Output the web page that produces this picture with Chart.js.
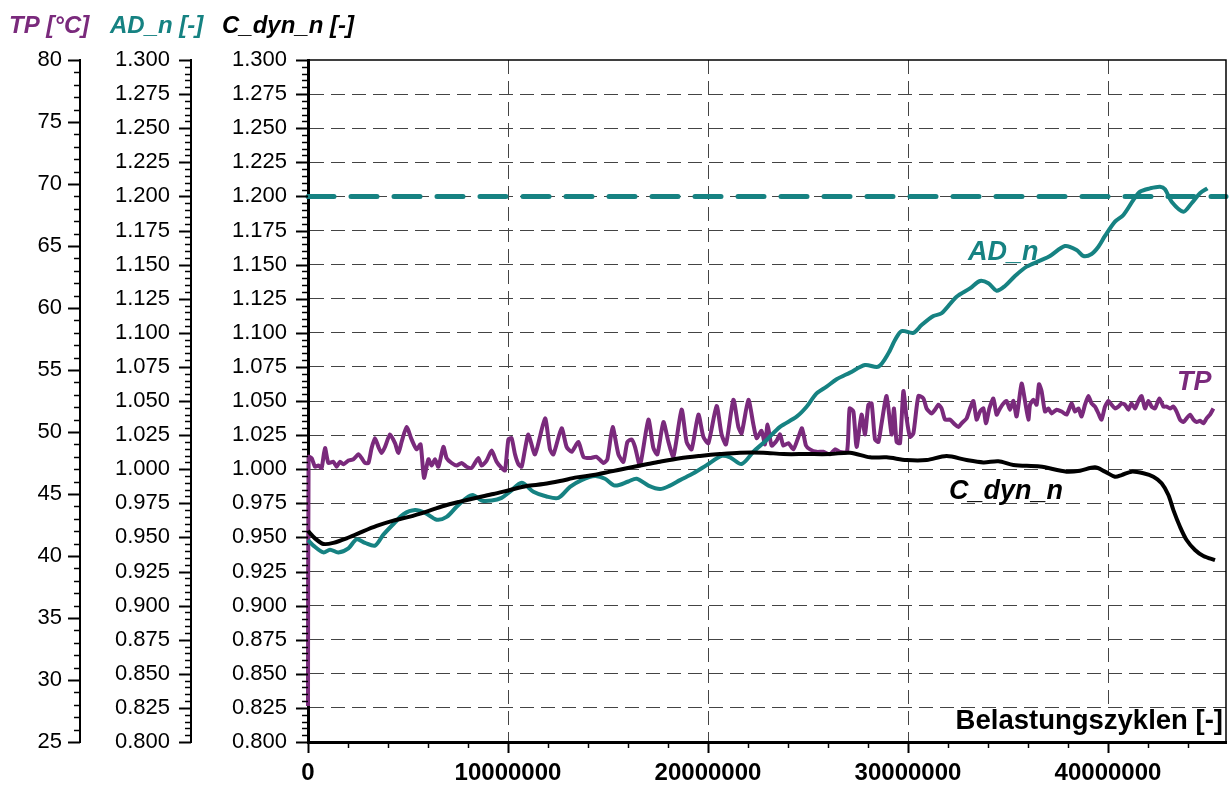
<!DOCTYPE html>
<html>
<head>
<meta charset="utf-8">
<script src="https://cdn.jsdelivr.net/npm/chart.js@4.4.1/dist/chart.umd.min.js"></script>
<style>
    html, body { margin: 0; padding: 0; background: #fff; overflow: hidden; }
    canvas { display: block; }
</style>
</head>
<body>
<canvas id="chart" width="1230" height="785"></canvas>
<script>
// --- Daten (Zyklen in Mio.) ---
const tpZyklen = [0, 0.03, 0.18, 0.35, 0.52, 0.68, 0.85, 1.02, 1.27, 1.43, 1.6, 1.77, 2.02, 2.27, 2.52, 2.68, 2.85, 3.02, 3.18, 3.35,
    3.52, 3.68, 3.85, 4.1, 4.35, 4.52, 4.68, 4.93, 5.18, 5.43, 5.63, 5.8, 6.02, 6.18, 6.35, 6.52, 6.77, 6.93, 7.18, 7.43,
    7.68, 7.93, 8.18, 8.35, 8.52, 8.68, 8.93, 9.18, 9.43, 9.68, 9.85, 10.02, 10.18, 10.35, 10.52, 10.68, 10.85, 11.02, 11.35, 11.85,
    12.1, 12.27, 12.68, 12.93, 13.18, 13.52, 13.77, 14.1, 14.43, 14.77, 14.97, 15.23, 15.52, 15.77, 15.97, 16.18, 16.35, 16.6, 17.02, 17.27,
    17.47, 17.77, 18.02, 18.27, 18.68, 18.93, 19.18, 19.52, 19.77, 20.02, 20.43, 20.68, 20.9, 21.27, 21.52, 21.68, 22.02, 22.27, 22.43, 22.68,
    22.85, 22.98, 23.18, 23.43, 23.6, 23.77, 24.02, 24.27, 24.52, 24.7, 24.9, 25.1, 25.43, 25.77, 26.1, 26.35, 26.6, 26.95, 27.08, 27.27,
    27.43, 27.68, 27.85, 28.02, 28.18, 28.35, 28.52, 28.68, 28.93, 29.18, 29.3, 29.43, 29.6, 29.77, 29.93, 30.1, 30.27, 30.52, 30.77, 30.93,
    31.18, 31.35, 31.52, 31.68, 31.85, 32.1, 32.35, 32.52, 32.68, 32.93, 33.1, 33.27, 33.43, 33.6, 33.77, 33.9, 34.07, 34.27, 34.43, 34.6,
    34.77, 34.93, 35.1, 35.27, 35.43, 35.68, 35.85, 36.02, 36.1, 36.27, 36.43, 36.55, 36.68, 36.85, 37.02, 37.18, 37.43, 37.68, 37.93, 38.18,
    38.35, 38.52, 38.68, 38.85, 39.02, 39.18, 39.35, 39.52, 39.68, 39.85, 40.02, 40.18, 40.35, 40.52, 40.68, 40.85, 41.02, 41.18, 41.35, 41.52,
    41.68, 41.85, 42.02, 42.18, 42.35, 42.57, 42.77, 42.93, 43.1, 43.27, 43.43, 43.6, 43.77, 43.93, 44.1, 44.27, 44.43, 44.6, 44.77, 44.93,
    45.1, 45.27];
const tpWerte = [27.9, 48.0, 47.9, 47.2, 47.3, 47.1, 48.7, 47.5, 47.6, 47.2, 47.6, 47.4, 47.7, 47.8, 48.2, 47.9, 47.5, 47.5, 48.7, 49.5,
    48.8, 48.3, 48.8, 49.8, 49.1, 48.3, 49.2, 50.4, 49.4, 48.6, 49.0, 46.3, 47.8, 47.3, 47.8, 47.2, 48.8, 47.9, 47.5, 47.3,
    47.5, 47.2, 47.1, 47.5, 47.9, 47.3, 47.7, 48.5, 47.6, 47.1, 46.9, 49.4, 49.5, 48.2, 47.4, 47.2, 48.6, 49.8, 48.2, 51.1,
    48.6, 48.2, 50.3, 48.8, 48.4, 49.2, 48.0, 47.9, 48.0, 47.5, 47.8, 50.4, 48.2, 47.6, 49.2, 49.4, 48.8, 47.3, 51.0, 48.7,
    48.2, 50.8, 49.2, 48.0, 51.8, 49.2, 48.6, 51.4, 49.6, 49.1, 52.1, 49.8, 49.0, 52.6, 50.4, 49.9, 52.6, 50.6, 49.5, 50.1,
    49.0, 50.6, 48.9, 49.3, 49.8, 48.9, 49.1, 48.6, 49.6, 50.3, 48.9, 48.6, 48.4, 48.4, 48.2, 48.6, 48.4, 48.4, 51.9, 51.65,
    48.8, 51.4, 49.8, 52.2, 52.3, 49.4, 49.2, 50.7, 52.9, 49.8, 51.9, 49.2, 49.1, 53.3, 51.1, 49.6, 49.9, 52.9, 52.7, 51.9,
    51.5, 51.8, 52.2, 51.9, 51.0, 51.0, 50.6, 50.4, 50.7, 51.1, 51.9, 52.5, 51.0, 51.65, 51.9, 50.7, 51.9, 52.7, 51.4, 51.9,
    52.3, 52.5, 51.8, 52.5, 51.25, 53.9, 52.5, 51.0, 52.2, 52.6, 52.2, 53.85, 53.3, 51.65, 51.9, 51.5, 51.8, 51.65, 51.4, 52.3,
    51.65, 51.9, 51.25, 52.2, 52.9, 52.3, 52.05, 51.5, 51.0, 52.05, 52.5, 52.2, 51.9, 52.05, 52.3, 52.2, 51.8, 52.3, 51.9, 52.5,
    52.9, 51.9, 52.5, 52.05, 51.9, 52.7, 52.05, 52.05, 51.9, 52.05, 51.65, 51.0, 50.8, 51.1, 51.4, 51.0, 50.8, 50.9, 50.7, 51.1,
    51.4, 51.9];

const adZyklen = [0, 0.27, 0.77, 1.1, 1.52, 2.02, 2.43, 2.85, 3.35, 3.77, 4.35, 4.77, 5.35, 5.85, 6.43, 6.93, 7.43, 7.93, 8.27, 8.68,
    9.18, 9.68, 10.1, 10.68, 11.27, 11.93, 12.52, 13.1, 13.68, 14.35, 14.85, 15.35, 16.02, 16.43, 17.02, 17.6, 18.1, 18.6, 19.27, 19.93,
    20.68, 21.1, 21.68, 22.27, 22.93, 23.6, 24.43, 24.93, 25.43, 25.93, 26.43, 27.1, 27.85, 28.52, 29.02, 29.35, 29.68, 30.27, 30.68, 31.27,
    31.68, 32.43, 33.1, 33.6, 34.02, 34.43, 34.85, 35.35, 35.93, 36.6, 37.1, 37.85, 38.43, 38.77, 39.18, 39.52, 39.85, 40.35, 40.77, 41.27,
    41.6, 42.1, 42.6, 42.85, 43.18, 43.77, 44.18, 44.6, 44.97];
const adWerte = [0.948, 0.944, 0.939, 0.941, 0.939, 0.942, 0.9486, 0.946, 0.944, 0.952, 0.961, 0.967, 0.970, 0.968, 0.963, 0.965, 0.9725, 0.979, 0.981, 0.977,
    0.977, 0.979, 0.9835, 0.990, 0.9835, 0.980, 0.979, 0.987, 0.992, 0.995, 0.993, 0.988, 0.991, 0.993, 0.988, 0.9855, 0.988, 0.992, 0.997, 1.003,
    1.0097, 1.0087, 1.0038, 1.0128, 1.0214, 1.031, 1.0385, 1.0458, 1.0556, 1.0605, 1.0659, 1.0708, 1.0764, 1.0752, 1.085, 1.0947, 1.1013, 1.100, 1.1057, 1.1123,
    1.1143, 1.1265, 1.1326, 1.138, 1.1363, 1.1309, 1.1343, 1.1416, 1.1485, 1.1529, 1.1563, 1.1636, 1.1607, 1.1563, 1.1578, 1.1631, 1.171, 1.1815, 1.1864, 1.1974,
    1.2034, 1.2059, 1.2071, 1.2052, 1.1961, 1.1888, 1.195, 1.2023, 1.2059];

const cZyklen = [0, 0.35, 0.77, 1.27, 1.93, 2.6, 3.43, 4.27, 5.1, 5.93, 6.77, 7.6, 8.43, 9.27, 10.1, 10.93, 11.77, 12.6, 13.43, 14.27,
    15.1, 15.93, 16.93, 17.6, 18.6, 19.6, 20.6, 21.6, 22.77, 23.77, 24.93, 26.1, 27.1, 28.1, 28.93, 29.93, 30.93, 31.93, 32.93, 33.77,
    34.52, 35.27, 36.6, 37.93, 38.6, 39.35, 39.85, 40.35, 40.68, 41.18, 41.77, 42.27, 42.68, 43.02, 43.27, 43.6, 43.93, 44.35, 44.77, 45.35];
const cWerte = [0.9547, 0.9493, 0.9452, 0.946, 0.9493, 0.9535, 0.9584, 0.9623, 0.9652, 0.9689, 0.973, 0.9762, 0.9791, 0.9818, 0.9848, 0.9877, 0.9891, 0.9913, 0.994, 0.9957,
    0.9982, 1.0007, 1.0036, 1.0055, 1.008, 1.0097, 1.0111, 1.0121, 1.0121, 1.0111, 1.0111, 1.0111, 1.0121, 1.0087, 1.0087, 1.0067, 1.0067, 1.0097, 1.0067, 1.005,
    1.0058, 1.0031, 1.0019, 0.9982, 0.9989, 1.0014, 0.9982, 0.9945, 0.9957, 0.9982, 0.997, 0.9945, 0.9897, 0.9811, 0.970, 0.9578, 0.9481, 0.9408, 0.9364, 0.9334];

const adGrenzwert = 1.2;

// Achsen
const xMax = 45.9e6;
const xTicks = [0, 10000000, 20000000, 30000000, 40000000];
const tpMin = 25, tpMax = 80, tpSchritt = 5;
const nMin = 0.8, nMax = 1.3, nSchritt = 0.025;

const FONT = "'Liberation Sans', Arial, sans-serif";
const LILA = "#7a2a7c";
const PETROL = "#168282";

const punkte = (xs, ys) => xs.map((x, i) => ({ x: x * 1e6, y: ys[i] }));

// --- Zusatzelemente: Teilstriche, Achsentitel, Kurvenbeschriftungen ---
const dekoPlugin = {
    id: "deko",
    beforeDatasetsDraw(chart) {
        const { ctx, chartArea } = chart;
        ctx.save();
        ctx.fillStyle = "#fff";
        ctx.fillRect(948, chartArea.bottom - 34, chartArea.right - 949, 33);
        ctx.restore();
    },
    afterDraw(chart) {
        const { ctx, chartArea, scales } = chart;
        ctx.save();

        // Rahmen oben und rechts
        ctx.strokeStyle = "#000";
        ctx.lineWidth = 1.5;
        ctx.beginPath();
        ctx.moveTo(chartArea.left, chartArea.top);
        ctx.lineTo(chartArea.right, chartArea.top);
        ctx.lineTo(chartArea.right, chartArea.bottom);
        ctx.stroke();

        // Teilstriche der y-Achsen
        const yStriche = (scale, min, schritt, anzahl, jeHaupt) => {
            const xr = scale.right;
            for (let i = 0; i <= anzahl; i++) {
                const y = Math.round(scale.getPixelForValue(min + i * schritt)) + 0.5;
                const haupt = i % jeHaupt === 0;
                ctx.lineWidth = haupt ? 2 : 1.5;
                ctx.beginPath();
                ctx.moveTo(xr - (haupt ? 12 : 6), y);
                ctx.lineTo(xr, y);
                ctx.stroke();
            }
        };
        yStriche(scales.yTP, tpMin, 1, 55, 5);
        yStriche(scales.yAD, nMin, 0.005, 100, 5);
        yStriche(scales.yC, nMin, 0.005, 100, 5);

        // Teilstriche der x-Achse
        const xs = scales.x;
        for (let i = 0; i * 2e6 <= xMax; i++) {
            const x = Math.round(xs.getPixelForValue(i * 2e6)) + 0.5;
            const haupt = i % 5 === 0;
            ctx.lineWidth = haupt ? 2 : 1.5;
            ctx.beginPath();
            ctx.moveTo(x, chartArea.bottom);
            ctx.lineTo(x, chartArea.bottom + (haupt ? 11 : 6));
            ctx.stroke();
        }

        // Achsentitel oben
        ctx.font = "italic bold 24px " + FONT;
        ctx.textBaseline = "alphabetic";
        ctx.textAlign = "left";
        ctx.fillStyle = LILA;
        ctx.fillText("TP [°C]", 9, 33);
        ctx.fillStyle = PETROL;
        ctx.fillText("AD_n [-]", 110, 33);
        ctx.fillStyle = "#000";
        ctx.fillText("C_dyn_n [-]", 222, 33);

        // x-Achsentitel
        ctx.font = "bold 27.5px " + FONT;
        ctx.textAlign = "right";
        ctx.fillText("Belastungszyklen [-]", chartArea.right - 3, chartArea.bottom - 13);

        // Kurvenbeschriftungen
        ctx.font = "italic bold 27px " + FONT;
        ctx.textAlign = "left";
        ctx.fillStyle = PETROL;
        ctx.fillText("AD_n", xs.getPixelForValue(33.0e6), scales.yAD.getPixelForValue(1.1534));
        ctx.fillStyle = LILA;
        ctx.fillText("TP", xs.getPixelForValue(43.45e6), scales.yTP.getPixelForValue(53.4));
        ctx.fillStyle = "#000";
        ctx.fillText("C_dyn_n", xs.getPixelForValue(32.05e6), scales.yC.getPixelForValue(0.978));

        ctx.restore();
    },
};

// --- Chart.js Diagramm ---
Chart.defaults.font.family = FONT;
Chart.defaults.color = "#000";

const ctx = document.getElementById("chart").getContext("2d");

const chart = new Chart(ctx, {
    type: "line",
    data: {
        datasets: [
            {
                label: "C_dyn_n",
                data: punkte(cZyklen, cWerte),
                yAxisID: "yC",
                borderColor: "#000",
                borderWidth: 4,
                tension: 0.3,
                order: 1,
            },
            {
                label: "AD_n",
                data: punkte(adZyklen, adWerte),
                yAxisID: "yAD",
                borderColor: PETROL,
                borderWidth: 4,
                tension: 0.3,
                order: 2,
            },
            {
                label: "AD_n Grenze",
                data: [{ x: 0, y: adGrenzwert }, { x: xMax, y: adGrenzwert }],
                yAxisID: "yAD",
                borderColor: PETROL,
                borderWidth: 5,
                borderDash: [26, 17],
                borderCapStyle: "round",
                order: 3,
            },
            {
                label: "TP",
                data: punkte(tpZyklen, tpWerte),
                yAxisID: "yTP",
                borderColor: LILA,
                borderWidth: 4,
                tension: 0.2,
                order: 4,
            },
        ],
    },
    options: {
        responsive: false,
        animation: false,
        devicePixelRatio: 1,
        clip: 4,
        elements: { point: { radius: 0 } },
        layout: { padding: { left: 0, top: 60, right: 4, bottom: 0 } },
        plugins: {
            legend: { display: false },
            tooltip: { enabled: false },
        },
        scales: {
            x: {
                type: "linear",
                position: "bottom",
                min: 0,
                max: xMax,
                afterFit: (s) => { s.height = 43; },
                afterBuildTicks: (s) => { s.ticks = xTicks.map((v) => ({ value: v })); },
                ticks: {
                    maxRotation: 0,
                    autoSkip: false,
                    padding: 17,
                    font: { size: 24, weight: "bold" },
                    callback: (v) => String(v),
                },
                grid: {
                    drawTicks: false,
                    color: (c) => (c.tick && c.tick.value === 0 ? "rgba(0,0,0,0)" : "#444"),
                    lineWidth: 1,
                },
                border: { display: true, color: "#000", width: 3, dash: [14, 7] },
            },
            yTP: {
                type: "linear",
                position: "left",
                weight: 3,
                min: tpMin,
                max: tpMax,
                afterFit: (s) => { s.width = 80; },
                ticks: { stepSize: tpSchritt, autoSkip: false, padding: 18, font: { size: 22 } },
                grid: { drawOnChartArea: false, drawTicks: false },
                border: { display: true, color: "#000", width: 2 },
            },
            yAD: {
                type: "linear",
                position: "left",
                weight: 2,
                min: nMin,
                max: nMax,
                afterFit: (s) => { s.width = 111; },
                ticks: {
                    stepSize: nSchritt, autoSkip: false, padding: 21, font: { size: 22 },
                    callback: (v) => v.toFixed(3),
                },
                grid: { drawOnChartArea: false, drawTicks: false },
                border: { display: true, color: "#000", width: 2 },
            },
            yC: {
                type: "linear",
                position: "left",
                weight: 1,
                min: nMin,
                max: nMax,
                afterFit: (s) => { s.width = 117; },
                ticks: {
                    stepSize: nSchritt, autoSkip: false, padding: 21, font: { size: 22 },
                    callback: (v) => v.toFixed(3),
                },
                grid: {
                    drawTicks: false,
                    color: (c) => {
                        const v = c.tick ? c.tick.value : 0;
                        return Math.abs(v - nMin) < 1e-6 || Math.abs(v - nMax) < 1e-6 ? "rgba(0,0,0,0)" : "#444";
                    },
                    lineWidth: 1,
                },
                border: { display: true, color: "#000", width: 3, dash: [14, 7] },
            },
        },
    },
    plugins: [dekoPlugin],
});
</script>
</body>
</html>
